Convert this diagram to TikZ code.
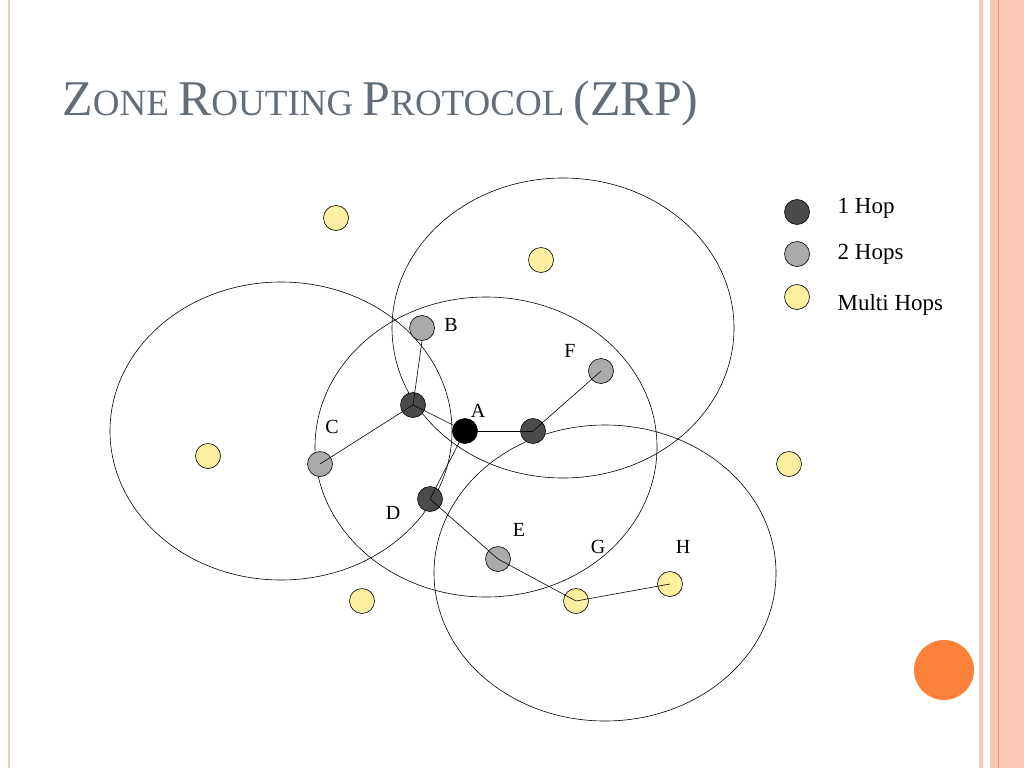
\documentclass[tikz,border=0pt]{standalone}
\usepackage{fontspec}
\setmainfont{Liberation Serif}
\definecolor{mydark}{RGB}{75,75,75}
\definecolor{mygray}{RGB}{170,170,170}
\definecolor{myyellow}{RGB}{252,240,160}
\definecolor{mysalmon}{RGB}{250,200,180}
\definecolor{myline}{RGB}{240,150,120}
\definecolor{myorange}{RGB}{252,130,60}
\definecolor{mytitle}{RGB}{100,110,120}
\usetikzlibrary{positioning}

\begin{document}
\begin{tikzpicture}[
  x=1pt,y=-1pt,
  semithick,
  node/.style={circle, draw, minimum size=25pt, inner sep=0pt},
  hop/.style={node, fill=mydark},
  twohop/.style={node, fill=mygray},
  multihop/.style={node, fill=myyellow},
  lbl/.style={font=\fontsize{20pt}{24pt}\selectfont},
  keytext/.style={anchor=west, font=\fontsize{23pt}{27pt}\selectfont},
  zone/.style={draw}
]
\useasboundingbox (0,0) rectangle (1024,768);
% frame
\fill[mysalmon] (990,0) rectangle (1024,768);
\draw[myline, line width=1pt] (998,0) -- (998,768);
\fill[mysalmon] (979,0) rectangle (983,768);
\draw[mysalmon, line width=1.5pt] (9,0) -- (9,768);

% title
\node[anchor=base west, text=mytitle, inner sep=0pt] (title) at (62,115)
  {\fontsize{50pt}{54pt}\selectfont Z\fontsize{37pt}{40pt}\selectfont ONE
   \fontsize{50pt}{54pt}\selectfont R\fontsize{37pt}{40pt}\selectfont OUTING
   \fontsize{50pt}{54pt}\selectfont P\fontsize{37pt}{40pt}\selectfont ROTOCOL
   \fontsize{50pt}{54pt}\selectfont (ZRP)};

% zones
\draw[zone] (281,431) ellipse (171 and 149);
\draw[zone] (563,328) ellipse (171 and 150);
\draw[zone] (486,447) ellipse (171 and 150);
\draw[zone] (605,573) ellipse (171 and 148);

% nodes
\node[hop, fill=black] (a) at (465,431) {};
\node[hop] (j) at (413,405) {};
\node[hop] (k) at (533,431) {};
\node[hop] (d) at (430,499) {};
\node[twohop] (b) at (422,328) {};
\node[twohop] (f) at (601,371) {};
\node[twohop] (c) at (320,464) {};
\node[twohop] (e) at (498,559) {};
\node[multihop] (g) at (576,601) {};
\node[multihop] (h) at (670,584) {};
\node[multihop] (y1) at (336,218) {};
\node[multihop] (y2) at (541,260) {};
\node[multihop] (y3) at (208,456) {};
\node[multihop] (y4) at (789,464) {};
\node[multihop] (y5) at (362,601) {};

% links
\draw (j.center) -- (b.south);
\draw (j.center) -- (c.center);
\draw (j.center) -- (a.center);
\draw (a) -- (k.center);
\draw (k.center) -- (f.center);
\draw (a) -- (d.center);
\draw (d.center) -- (e.center);
\draw (e.center) -- (g.center);
\draw (g.center) -- (h.center);

% labels
\node[lbl] (lb) at (451,325) {B};
\node[lbl] (lf) at (570,351) {F};
\node[lbl] (la) at (478,411) {A};
\node[lbl] (lc) at (332,427) {C};
\node[lbl] (ld) at (393,513) {D};
\node[lbl] (le) at (519,530) {E};
\node[lbl] (lg) at (598,547) {G};
\node[lbl] (lh) at (683,547) {H};

% legend
\node[hop] (k1) at (797,212) {};
\node[twohop] (k2) at (797,254) {};
\node[multihop] (k3) at (797,297) {};
\node[keytext] (t1) at (834,208) {1 Hop};
\node[keytext] (t2) at (834,254) {2 Hops};
\node[keytext] (t3) at (834,305) {Multi Hops};

\fill[myorange] (944,670) circle (30);
\end{tikzpicture}
\end{document}
